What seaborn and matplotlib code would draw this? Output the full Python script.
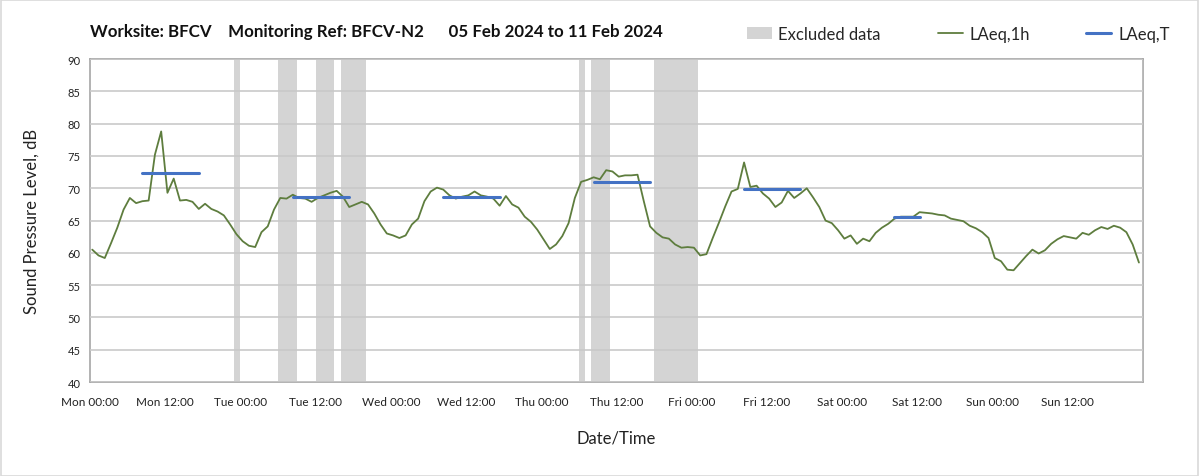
"""
Noise monitoring weekly chart
Hourly LAeq with working-hours LAeq,T and excluded periods
"""

import numpy as np
import pandas as pd
import matplotlib
matplotlib.use('Agg')
import matplotlib.pyplot as plt
from matplotlib.patches import Patch, Rectangle
from matplotlib.lines import Line2D
from matplotlib.ticker import MultipleLocator
import seaborn as sns

# Hourly LAeq,1h values (dB), Mon 00:00 to Sun 23:00
laeq_1h = [
    60.5, 59.6, 59.2, 61.5, 63.9, 66.7, 68.5, 67.7, 68.0, 68.1,
    75.2, 78.8, 69.3, 71.5, 68.1, 68.2, 67.9, 66.8, 67.6, 66.8,
    66.4, 65.8, 64.4, 62.9, 61.8, 61.1, 60.9, 63.2, 64.1, 66.7,
    68.5, 68.4, 69.0, 68.5, 68.4, 67.9, 68.5, 68.9, 69.3, 69.6,
    68.7, 67.1, 67.5, 67.9, 67.5, 66.1, 64.4, 63.0, 62.7, 62.3,
    62.7, 64.4, 65.3, 68.0, 69.5, 70.1, 69.8, 68.9, 68.4, 68.7,
    68.9, 69.5, 68.9, 68.7, 68.4, 67.3, 68.8, 67.5, 67.0, 65.6,
    64.8, 63.6, 62.1, 60.6, 61.3, 62.6, 64.6, 68.5, 71.0, 71.3,
    71.7, 71.4, 72.8, 72.6, 71.8, 72.0, 72.0, 72.1, 68.0, 64.1,
    63.1, 62.4, 62.2, 61.3, 60.8, 60.9, 60.8, 59.6, 59.8, 62.3,
    64.7, 67.2, 69.5, 69.9, 74.0, 70.2, 70.4, 69.2, 68.4, 67.1,
    67.8, 69.6, 68.5, 69.2, 70.0, 68.6, 67.1, 65.0, 64.6, 63.5,
    62.2, 62.7, 61.4, 62.2, 61.8, 63.1, 63.9, 64.5, 65.3, 65.6,
    65.6, 65.6, 66.3, 66.2, 66.1, 65.9, 65.8, 65.3, 65.1, 64.9,
    64.2, 63.8, 63.2, 62.3, 59.2, 58.7, 57.4, 57.3, 58.4, 59.5,
    60.5, 59.9, 60.4, 61.4, 62.1, 62.6, 62.4, 62.2, 63.1, 62.8,
    63.5, 64.0, 63.7, 64.2, 63.9, 63.2, 61.3, 58.5,
]

# Working-period LAeq,T (start hour, end hour, level)
laeq_t_start = [8, 32, 56, 80, 104, 128]
laeq_t_end = [17, 41, 65, 89, 113, 132]
laeq_t_level = [72.3, 68.6, 68.7, 71.0, 69.9, 65.6]

# Excluded data periods (hours from Mon 00:00)
excluded_start = [23, 30, 36, 40, 78, 80, 90]
excluded_end = [24, 33, 39, 44, 79, 83, 97]

day_names = ['Mon', 'Tue', 'Wed', 'Thu', 'Fri', 'Sat', 'Sun']
tick_labels = [f'{d} {t}' for d in day_names for t in ('00:00', '12:00')]

TITLE = 'Worksite: BFCV    Monitoring Ref: BFCV-N2      05 Feb 2024 to 11 Feb 2024'

GREEN = '#5E7D3E'
BLUE = '#4472C4'
BAND = '#D4D4D4'
POINT_OFFSET = 0.35  # points sit slightly after the hour mark


def build_frames():
    """Build the data frames used for plotting"""
    hourly = pd.DataFrame({
        'hour': np.arange(len(laeq_1h)) + POINT_OFFSET,
        'level': laeq_1h,
    })
    rows = []
    for i, (s, e, lv) in enumerate(zip(laeq_t_start, laeq_t_end, laeq_t_level)):
        rows.append({'seg': i, 'hour': s + POINT_OFFSET, 'level': lv})
        rows.append({'seg': i, 'hour': e + POINT_OFFSET, 'level': lv})
    periods = pd.DataFrame(rows)
    return hourly, periods


def main():
    sns.set_style('white')
    plt.rcParams['font.family'] = ['Lato', 'DejaVu Sans']

    hourly, periods = build_frames()

    fig = plt.figure(figsize=(11.99, 4.77), dpi=100)
    ax = fig.add_axes([0.0751, 0.197, 0.8782, 0.677])

    # Excluded periods as grey bands
    for s, e in zip(excluded_start, excluded_end):
        ax.axvspan(s, e, color=BAND, lw=0, zorder=0)

    sns.lineplot(data=hourly, x='hour', y='level', color=GREEN,
                 linewidth=1.3, ax=ax, zorder=3)
    sns.lineplot(data=periods, x='hour', y='level', units='seg',
                 estimator=None, color=BLUE, linewidth=2.2, ax=ax, zorder=4)

    # Axes limits and ticks
    ax.set_xlim(0, 168)
    ax.set_ylim(40, 90)
    ax.xaxis.set_minor_locator(MultipleLocator(24))
    ax.set_xticks(np.arange(0, 168, 12))
    ax.set_xticklabels(tick_labels)
    ax.yaxis.set_major_locator(MultipleLocator(5))

    ax.tick_params(axis='x', which='major', length=4, width=0.8,
                   color='#A0A0A0', labelsize=8.5, pad=6, labelcolor='#222222')
    ax.tick_params(axis='x', which='minor', length=0)
    ax.tick_params(axis='y', length=3, width=0.8, color='#A0A0A0',
                   labelsize=8, pad=4, labelcolor='#222222')

    # Grid drawn above the bands but below the lines
    ax.set_axisbelow(False)
    ax.grid(axis='y', which='major', color='#C9C9C9', linewidth=1.2)
    ax.grid(axis='x', which='minor', color='#E0E0E0', linewidth=1.0)
    ax.grid(axis='x', which='major', visible=False)

    for side in ['left', 'right', 'top', 'bottom']:
        ax.spines[side].set_visible(True)
        ax.spines[side].set_color('#A6A6A6')
        ax.spines[side].set_linewidth(1.2)

    ax.set_xlabel('Date/Time', fontsize=12, labelpad=16, color='#222222')
    ax.set_ylabel('Sound Pressure Level, dB', fontsize=12, labelpad=20,
                  color='#222222')

    # Title and legend across the top
    fig.text(0.0751, 0.932, TITLE, fontsize=12.2, fontweight='bold',
             ha='left', va='center', color='#111111')

    handles = [
        Patch(facecolor=BAND, edgecolor='none', label='Excluded data'),
        Line2D([0], [0], color=GREEN, lw=1.3, label='LAeq,1h'),
        Line2D([0], [0], color=BLUE, lw=2.2, label='LAeq,T'),
    ]
    fig.legend(handles=handles, loc='center right', ncol=3, frameon=False,
               bbox_to_anchor=(0.988, 0.927), fontsize=12, handlelength=1.5,
               handletextpad=0.4, columnspacing=3.4)

    # Light frame around the whole chart
    fig.patches.append(Rectangle((0.0008, 0.001), 0.9984, 0.997,
                                 transform=fig.transFigure, fill=False,
                                 edgecolor='#D9D9D9', linewidth=1.2))

    fig.savefig('out.png', dpi=100)
    plt.close(fig)
    print('Chart saved to out.png')


if __name__ == '__main__':
    main()
